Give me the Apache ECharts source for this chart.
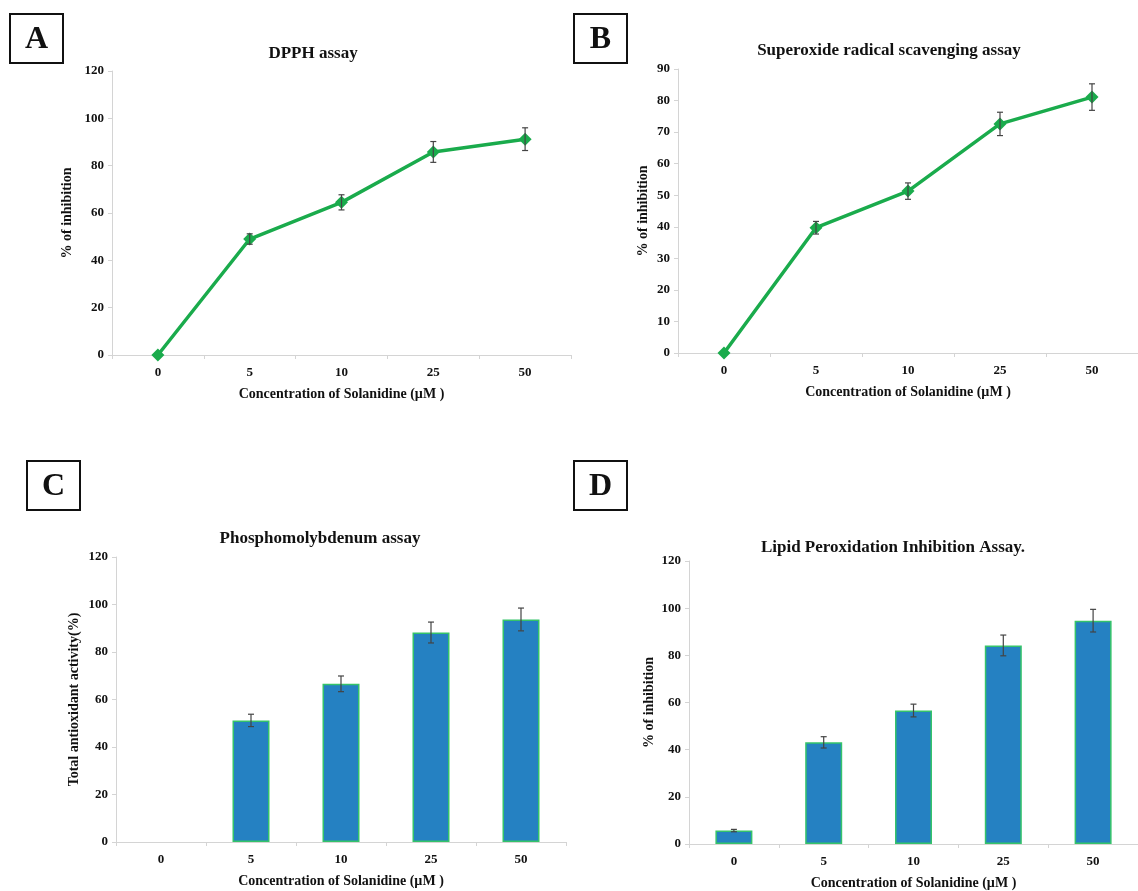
<!DOCTYPE html>
<html><head><meta charset="utf-8">
<script src="https://cdn.jsdelivr.net/npm/echarts@6/dist/echarts.min.js"></script>
<style>html,body{margin:0;padding:0;background:#fff}#c{width:1138px;height:891px}</style>
</head><body><div id="c"></div>
<script>
const categories = ['0','5','10','25','50'];
const dpphValues = [0, 49, 64.5, 85.8, 91.2];
const dpphErrors = [0, 2.2, 3.2, 4.4, 4.8];
const superoxideValues = [0, 39.7, 51.3, 72.6, 81.1];
const superoxideErrors = [0, 2, 2.6, 3.7, 4.2];
const phosphoValues = [0, 51.2, 66.6, 88.2, 93.7];
const phosphoErrors = [0, 2.6, 3.3, 4.4, 4.8];
const lipidValues = [5.7, 43.1, 56.6, 84.2, 94.7];
const lipidErrors = [0.5, 2.4, 2.7, 4.4, 4.8];
const titles = ['DPPH assay','Superoxide radical scavenging assay','Phosphomolybdenum assay','Lipid Peroxidation Inhibition Assay.'];
const yNames = ['% of inhibition','% of inhibition','Total antioxidant activity(%)','% of inhibition'];
const xName = 'Concentration of Solanidine (\u00b5M )';
const yMax = [120, 90, 120, 120];
const yInterval = [20, 10, 20, 20];
const panelLetters = ['A','B','C','D'];

const FONT = '"Liberation Serif", "Times New Roman", serif';
const grids = [
  {left:112, top:71, width:459, height:284},
  {left:678, top:69, width:460, height:284},
  {left:116, top:557, width:450, height:285},
  {left:689, top:561, width:451, height:284}
];
const titlePos = [[308,40],[884,37],[315,525],[888,534]];
const yNameGap = [38, 28, 35, 33];
const boxes = [[10,14],[574,14],[27,461],[574,461]];

const lineColor = '#1aab4c';
const barFill = '#2581c2';
const barBorder = '#35c36a';

function errorSeries(idx, vals, errs){
  return {
    type:'custom', xAxisIndex:idx, yAxisIndex:idx, z:10,
    data: vals.map((v,i)=>[i, v-errs[i], v+errs[i]]),
    renderItem: function(params, api){
      if (api.value(2) - api.value(1) <= 0) return null;
      const lo = api.coord([api.value(0), api.value(1)]);
      const hi = api.coord([api.value(0), api.value(2)]);
      const x = lo[0], w = 3;
      const st = {stroke:'#444', lineWidth:1.2};
      return {type:'group', children:[
        {type:'line', shape:{x1:x,y1:lo[1],x2:x,y2:hi[1]}, style:st},
        {type:'line', shape:{x1:x-w,y1:lo[1],x2:x+w,y2:lo[1]}, style:st},
        {type:'line', shape:{x1:x-w,y1:hi[1],x2:x+w,y2:hi[1]}, style:st}
      ]};
    }
  };
}

const xAxes = grids.map((g,i)=>({
  type:'category', gridIndex:i, data:categories, boundaryGap:true,
  name:xName, nameLocation:'middle', nameGap:32,
  nameTextStyle:{fontFamily:FONT, fontWeight:'bold', fontSize:14, color:'#111'},
  axisLine:{lineStyle:{color:'#d4d4d4', width:1}},
  axisTick:{show:true, length:4, alignWithLabel:false, lineStyle:{color:'#d4d4d4'}},
  axisLabel:{fontFamily:FONT, fontWeight:'bold', fontSize:13, color:'#111', margin:11},
  splitLine:{show:false}
}));
const yAxes = grids.map((g,i)=>({
  type:'value', gridIndex:i, min:0, max:yMax[i], interval:yInterval[i],
  name:yNames[i], nameLocation:'middle', nameGap:yNameGap[i],
  nameTextStyle:{fontFamily:FONT, fontWeight:'bold', fontSize:14, color:'#111'},
  axisLine:{show:true, lineStyle:{color:'#d4d4d4', width:1}},
  axisTick:{show:true, length:4, lineStyle:{color:'#d4d4d4'}},
  axisLabel:{fontFamily:FONT, fontWeight:'bold', fontSize:13, color:'#111', margin:8},
  splitLine:{show:false}
}));

const lineSeries = (idx, vals)=>({
  type:'line', xAxisIndex:idx, yAxisIndex:idx, data:vals,
  symbol:'diamond', symbolSize:13, showSymbol:true,
  lineStyle:{color:lineColor, width:3.5}, itemStyle:{color:lineColor}, z:5
});
const barSeries = (idx, vals)=>({
  type:'bar', xAxisIndex:idx, yAxisIndex:idx, barWidth:37,
  data: vals.map(v => v === 0 ? {value:v, itemStyle:{borderWidth:0, opacity:0}} : v),
  itemStyle:{color:barFill, borderColor:barBorder, borderWidth:1.5}, z:5
});

const graphic = [];
boxes.forEach((b,i)=>{
  graphic.push({type:'rect', x:b[0], y:b[1], shape:{x:0, y:0, width:53, height:49},
    style:{fill:'#fff', stroke:'#111', lineWidth:2}});
  graphic.push({type:'text', x:b[0] + 26.5, y:b[1] + 26, style:{
    text:panelLetters[i], textAlign:'center', textVerticalAlign:'middle',
    font:'bold 32px ' + FONT, fill:'#111'}});
});

const option = {
  animation:false,
  backgroundColor:'#fff',
  title: titles.map((t,i)=>({text:t, left:titlePos[i][0], top:titlePos[i][1], textAlign:'center',
    textStyle:{fontFamily:FONT, fontWeight:'bold', fontSize:17, color:'#111'}})),
  grid: grids,
  xAxis: xAxes,
  yAxis: yAxes,
  graphic: graphic,
  series: [
    lineSeries(0, dpphValues), errorSeries(0, dpphValues, dpphErrors),
    lineSeries(1, superoxideValues), errorSeries(1, superoxideValues, superoxideErrors),
    barSeries(2, phosphoValues), errorSeries(2, phosphoValues, phosphoErrors),
    barSeries(3, lipidValues), errorSeries(3, lipidValues, lipidErrors)
  ]
};
const chart = echarts.init(document.getElementById('c'));
chart.setOption(option);
</script></body></html>
